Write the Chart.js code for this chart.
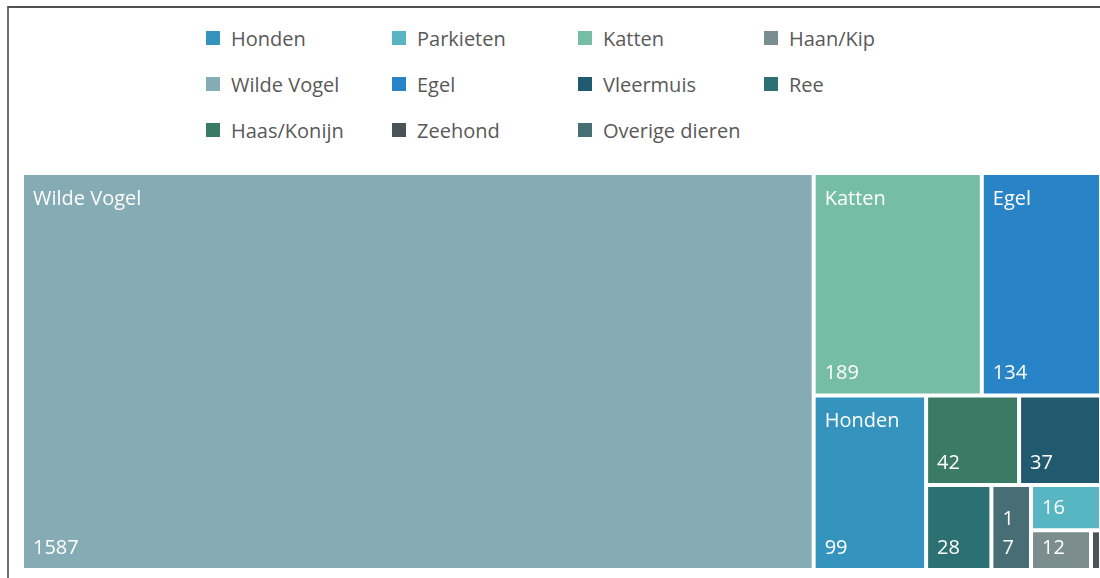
<!DOCTYPE html>
<html>
<head>
<meta charset="utf-8">
<script src="https://cdn.jsdelivr.net/npm/chart.js@4.4.1/dist/chart.umd.min.js"></script>
<style>
  html, body { margin: 0; padding: 0; background: #fff; overflow: hidden; width: 1100px; height: 578px; }
  #frame { position: absolute; left: 7px; top: 6px; width: 1300px; height: 800px;
           border-left: 2px solid #707070; border-top: 2px solid #505050; }
  #legend { position: absolute; left: 0; top: 0; width: 1100px; height: 160px;
            font-family: 'Open Sans', sans-serif; font-size: 20px; color: #595959; }
  .item { position: absolute; height: 24px; display: flex; align-items: center; white-space: nowrap; }
  .box { width: 14px; height: 14px; margin-right: 11px; }
  #treemap { position: absolute; left: 0; top: 0; }
</style>
</head>
<body>
<div id="frame"></div>
<div id="legend"></div>
<canvas id="treemap" width="1105" height="578"></canvas>
<script>
// data, in legend order
const categories = ['Honden', 'Parkieten', 'Katten', 'Haan/Kip', 'Wilde Vogel', 'Egel',
                    'Vleermuis', 'Ree', 'Haas/Konijn', 'Zeehond', 'Overige dieren'];
const counts = [99, 16, 189, 12, 1587, 134, 37, 28, 42, 2, 17];
const colors = ['#3594bd', '#57b6c1', '#76bda5', '#7b8d8e', '#85abb5', '#2884c7',
                '#215a6e', '#2c7073', '#3b7b65', '#4a5356', '#476d75'];

const labelFont = "20px 'Open Sans', sans-serif";
const gap = 2;   // half of the white gap between tiles
const pad = 9;

// legend (html, 4 fixed columns like the excel one)
const legend = document.getElementById('legend');
categories.forEach(function (name, i) {
  const item = document.createElement('div');
  item.className = 'item';
  item.style.left = (206 + (i % 4) * 186) + 'px';
  item.style.top = (26 + Math.floor(i / 4) * 46) + 'px';
  item.innerHTML = '<span class="box" style="background:' + colors[i] + '"></span>' + name;
  legend.appendChild(item);
});

// squarified layout, returns cells in the units of w/h
function meanAspect(row, side, scale) {
  const total = row.reduce((s, it) => s + it.v, 0);
  const thick = total * scale / side;
  let sum = 0;
  row.forEach(function (it) {
    const len = it.v * scale / thick;
    sum += Math.max(thick / len, len / thick);
  });
  return sum / row.length;
}

function squarify(values, W, H) {
  let items = values.map((v, i) => ({ v: v, i: i })).sort((a, b) => b.v - a.v);
  let rest = items.reduce((s, it) => s + it.v, 0);
  let x = 0, y = 0, w = W, h = H;
  const cells = [];
  while (items.length) {
    const vertical = w > h * 1.02;
    const side = vertical ? h : w;
    const scale = (w * h) / rest;
    let row = [items[0]];
    let best = meanAspect(row, side, scale);
    while (row.length < items.length) {
      const cand = items.slice(0, row.length + 1);
      const a = meanAspect(cand, side, scale);
      if (best / a >= 1.25) { row = cand; best = a; } else break;
    }
    const rowSum = row.reduce((s, it) => s + it.v, 0);
    const thick = rowSum * scale / side;
    let off = 0;
    row.forEach(function (it) {
      const len = it.v * scale / thick;
      if (vertical) cells[it.i] = { x: x, y: y + off, w: thick, h: len };
      else cells[it.i] = { x: x + off, y: y, w: len, h: thick };
      off += len;
    });
    if (vertical) { x += thick; w -= thick; } else { y += thick; h -= thick; }
    items = items.slice(row.length);
    rest -= rowSum;
  }
  return cells;
}

const noSkip = { top: false, right: false, bottom: false, left: false };

class TreemapController extends Chart.DatasetController {
  parse(start, count) {
    const meta = this._cachedMeta;
    const data = this.getDataset().data;
    for (let i = start; i < start + count; i++) {
      meta._parsed[i] = { x: 0, y: data[i] };
    }
  }

  getMinMax() {
    return { min: 0, max: 1 };
  }

  update(mode) {
    const meta = this._cachedMeta;
    this.updateElements(meta.data, 0, meta.data.length, mode);
  }

  updateElements(rects, start, count, mode) {
    const area = this.chart.chartArea;
    const meta = this._cachedMeta;
    const xScale = meta.xScale, yScale = meta.yScale;
    if (!area || !xScale || !yScale) return;
    const W = area.right - area.left, H = area.bottom - area.top;
    const cells = squarify(this.getDataset().data, W, H);
    this._tiles = [];
    for (let i = start; i < start + count; i++) {
      const c = cells[i];
      const left = xScale.getPixelForValue(c.x / W) + gap;
      const right = xScale.getPixelForValue((c.x + c.w) / W) - gap;
      const top = yScale.getPixelForValue(c.y / H) + gap;
      const bottom = yScale.getPixelForValue((c.y + c.h) / H) - gap;
      this._tiles[i] = { left: left, right: right, top: top, bottom: bottom };
      this.updateElement(rects[i], i, {
        x: (left + right) / 2,
        y: top,
        base: bottom,
        width: right - left,
        height: bottom - top,
        horizontal: false,
        borderSkipped: noSkip,
        inflateAmount: 0,
        options: this.resolveDataElementOptions(i, mode)
      }, mode);
    }
  }

  draw() {
    if (!this._tiles) return;
    super.draw();
    const ctx = this.chart.ctx;
    const labels = this.chart.data.labels;
    const data = this.getDataset().data;
    ctx.save();
    ctx.font = labelFont;
    ctx.fillStyle = '#ffffff';
    ctx.textBaseline = 'middle';
    ctx.textAlign = 'left';
    this._tiles.forEach(function (t, i) {
      const tw = t.right - t.left, th = t.bottom - t.top;
      const name = labels[i];
      if (ctx.measureText(name).width + 2 * pad <= tw && th >= 110) {
        ctx.fillText(name, t.left + pad, t.top + 24);
      }
      const val = String(data[i]);
      if (ctx.measureText(val).width + 2 * pad <= tw) {
        ctx.fillText(val, t.left + pad, t.bottom - 20);
      } else {
        const chars = val.split('');
        const widest = Math.max.apply(null, chars.map(ch => ctx.measureText(ch).width));
        if (widest + 2 * pad <= tw && chars.length * 29 + 10 <= th) {
          chars.forEach(function (ch, k) {
            ctx.fillText(ch, t.left + pad, t.bottom - 20 - (chars.length - 1 - k) * 29);
          });
        }
      }
    });
    ctx.restore();
  }
}
TreemapController.id = 'treemap';
TreemapController.defaults = { datasetElementType: false, dataElementType: 'bar' };
Chart.register(TreemapController);

new Chart(document.getElementById('treemap'), {
  type: 'treemap',
  data: {
    labels: categories,
    datasets: [{
      data: counts,
      backgroundColor: colors,
      borderWidth: 0
    }]
  },
  options: {
    responsive: false,
    animation: false,
    events: [],
    layout: { padding: { left: 22, top: 173, right: 4, bottom: 8 } },
    plugins: { legend: { display: false }, tooltip: { enabled: false } },
    scales: {
      x: { type: 'linear', display: false, min: 0, max: 1 },
      y: { type: 'linear', display: false, min: 0, max: 1, reverse: true }
    }
  }
});
</script>
</body>
</html>
